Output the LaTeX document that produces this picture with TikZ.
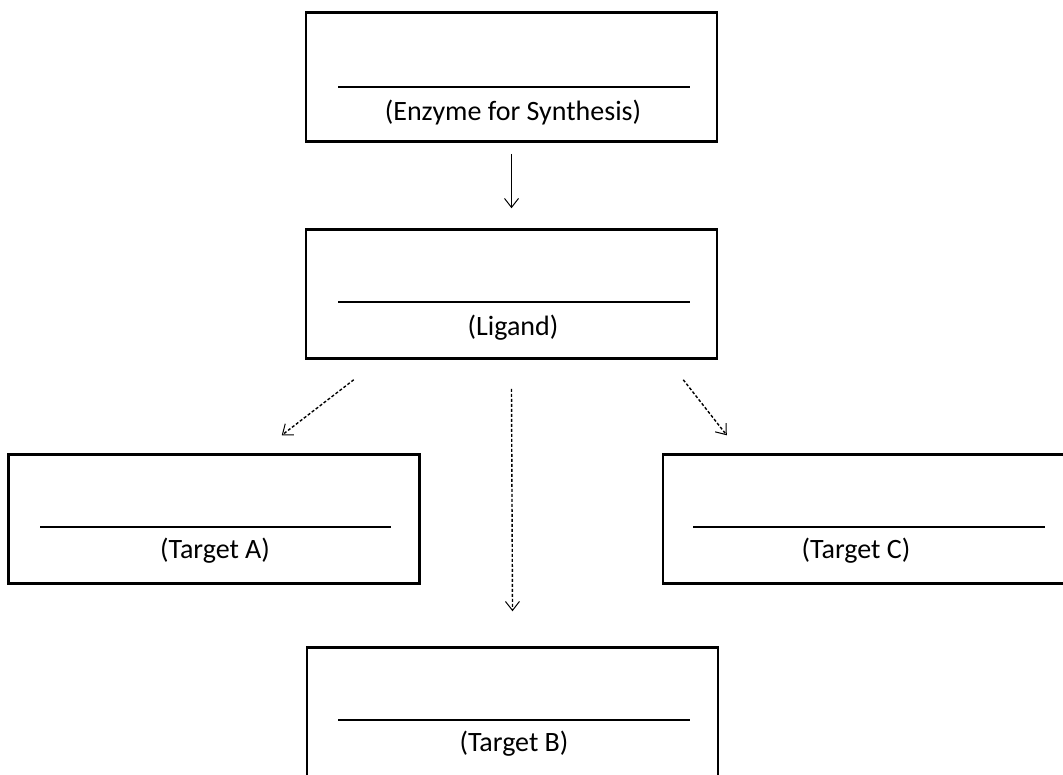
\documentclass[tikz,border=0pt]{standalone}
\usepackage{fontspec}
\setmainfont{Carlito}
\usetikzlibrary{arrows.meta,calc}
\tikzset{
  box/.style={draw=black, line width=2.5pt, minimum width=411pt, minimum height=129pt, inner sep=0pt},
  lbl/.style={font=\fontsize{28}{32}\selectfont, inner sep=0pt, anchor=base},
  blank/.style={line width=1.5pt},
  conn/.style={line width=1pt, -{Straight Barb[length=9pt,width=14pt,line width=1pt]}},
  dconn/.style={conn, line width=1.4pt, dash pattern=on 3pt off 2pt}
}
\begin{document}
\begin{tikzpicture}[x=1pt,y=-1pt]
\useasboundingbox (0,0) rectangle (1063,774);
\fill[white] (0,0) rectangle (1063,774);
% boxes
\node[box] (enz) at (511.5,77) {};
\node[box] (lig) at (511.5,294) {};
\node[box] (ta) at (214,519) {};
\node[box, minimum width=420pt] (tc) at (873,519) {};
\node[box] (tb) at (512.5,712) {};
% blanks and labels
\draw[blank] (338,87) -- (690,87);
\node[lbl] (enzl) at (513,120) {(Enzyme for Synthesis)};
\draw[blank] (338,302) -- (690,302);
\node[lbl] (ligl) at (513,335) {(Ligand)};
\draw[blank] (40,527) -- (391,527);
\node[lbl] (tal) at (215,558) {(Target A)};
\draw[blank] (693,527) -- (1045,527);
\node[lbl] (tcl) at (856,558) {(Target C)};
\draw[blank] (338,720) -- (690,720);
\node[lbl] (tbl) at (514,751) {(Target B)};
% connectors
\draw[conn] ($(enz.south)+(0,11)$) -- ($(lig.north)+(0,-20)$);
\draw[dconn] ($(lig.south)+(0,29)$) -- ($(tb.north)+(0,-35)$);
\draw[dconn] ($(lig.south west)+(49,20)$) -- ($(ta.north east)+(-139,-18)$);
\draw[dconn] ($(lig.south east)+(-35,20)$) -- ($(tc.north west)+(65,-18)$);
\end{tikzpicture}
\end{document}
